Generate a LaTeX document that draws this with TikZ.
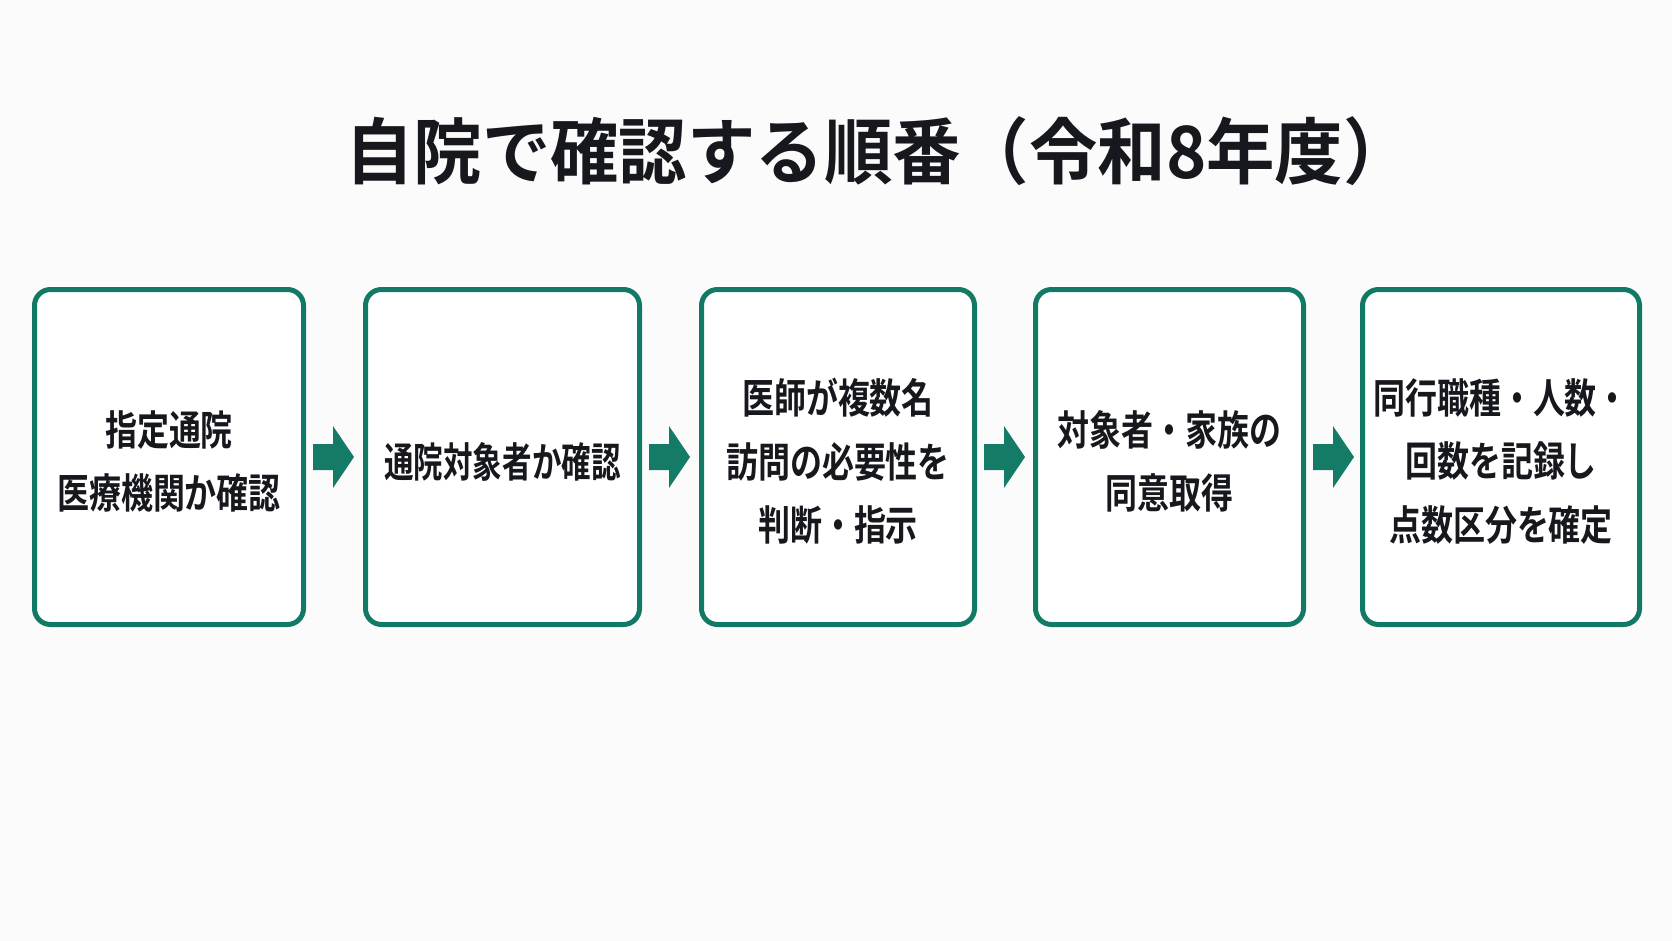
\documentclass[tikz,border=0pt]{standalone}
\usepackage{fontspec}
\newfontfamily\jptitle{Noto Sans CJK JP Bold}[FakeStretch=0.95]
\newfontfamily\jpbox{Noto Sans CJK JP Bold}[FakeStretch=0.78]
\newfontfamily\jpboxn{Noto Sans CJK JP Bold}[FakeStretch=0.72]
\usetikzlibrary{calc}
\definecolor{bgc}{RGB}{251,251,251}
\definecolor{flowgreen}{RGB}{18,121,100}
\definecolor{arrowgreen}{RGB}{20,124,102}
\definecolor{inkc}{RGB}{22,24,30}
\begin{document}
\begin{tikzpicture}[x=1pt,y=-1pt,
  stepbox/.style={draw=flowgreen, line width=5pt, rounded corners=16pt, fill=white,
    minimum width=#1, minimum height=335pt, inner sep=0pt},
  steptext/.style={align=center, text=inkc, inner sep=0pt,
    font=\jpbox\fontsize{41}{63.5}\selectfont},
  titletext/.style={text=inkc, font=\jptitle\fontsize{72}{80}\selectfont, inner sep=0pt, anchor=west},
  blockarrow/.style={fill=arrowgreen, draw=none}]
\fill[bgc] (0,0) rectangle (1672,941);
\useasboundingbox (0,0) rectangle (1672,941);

\node[titletext] (title) at (345,151) {自院で確認する順番（令和8年度）};

\node[stepbox=269pt] (b1) at (169,457) {};
\node[stepbox=274pt] (b2) at (502.5,457) {};
\node[stepbox=273pt] (b3) at (838,457) {};
\node[stepbox=268pt] (b4) at (1169.5,457) {};
\node[stepbox=277pt] (b5) at (1501,457) {};

\node[steptext] (t1) at ($(b1.center)+(0,4.5)$) {指定通院\\医療機関か確認};
\node[steptext, font=\jpboxn\fontsize{41}{63.5}\selectfont] (t2) at ($(b2.center)+(0,4.5)$) {通院対象者か確認};
\node[steptext] (t3) at ($(b3.center)+(0,4.5)$) {医師が複数名\\訪問の必要性を\\判断・指示};
\node[steptext] (t4) at ($(b4.center)+(0,4.5)$) {対象者・家族の\\同意取得};
\node[steptext] (t5) at ($(b5.center)+(0,4.5)$) {同行職種・人数・\\回数を記録し\\点数区分を確定};

\foreach \a/\b in {b1/b2,b2/b3,b3/b4,b4/b5}{
  \fill[blockarrow] ($(\a.east)+(7,-13)$) -- ++(20,0) -- ++(0,-18) -- ++(21,31)
    -- ++(-21,31) -- ++(0,-18) -- ++(-20,0) -- cycle;
}
\end{tikzpicture}
\end{document}
